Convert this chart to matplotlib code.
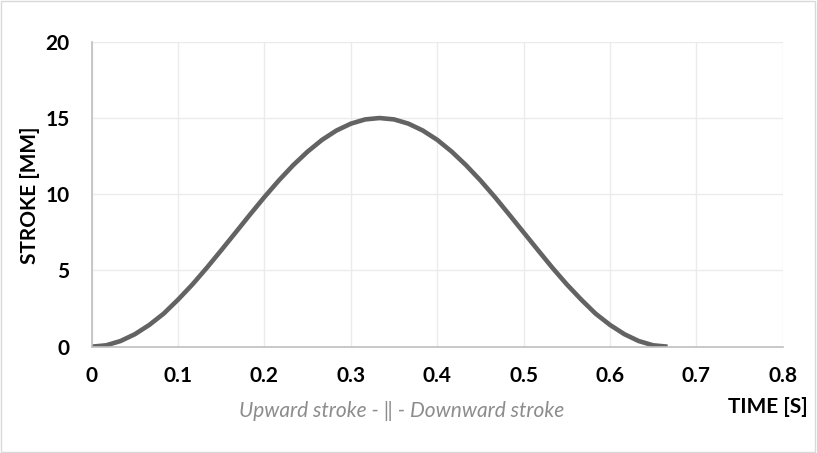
import matplotlib
matplotlib.use('Agg')
import matplotlib.pyplot as plt
from matplotlib.patches import Rectangle

plt.rcParams['font.family'] = ['Lato', 'DejaVu Sans']

# stroke profile (time in s, stroke in mm)
time_s = [0, 0.0167, 0.0333, 0.05, 0.0667, 0.0833, 0.1, 0.1167, 0.1333, 0.15,
          0.1667, 0.1833, 0.2, 0.2167, 0.2333, 0.25, 0.2667, 0.2833, 0.3,
          0.3167, 0.3333, 0.35, 0.3667, 0.3833, 0.4, 0.4167, 0.4333, 0.45,
          0.4667, 0.4833, 0.5, 0.5167, 0.5333, 0.55, 0.5667, 0.5833, 0.6,
          0.6167, 0.6333, 0.65, 0.6667]
stroke_mm = [0, 0.09, 0.37, 0.82, 1.43, 2.17, 3.09, 4.09, 5.18, 6.33, 7.5,
             8.67, 9.82, 10.91, 11.91, 12.8, 13.57, 14.18, 14.63, 14.91, 15.0,
             14.91, 14.63, 14.18, 13.57, 12.8, 11.91, 10.91, 9.82, 8.67, 7.5,
             6.33, 5.18, 4.09, 3.09, 2.17, 1.43, 0.82, 0.37, 0.09, 0]

x_ticks = [0, 0.1, 0.2, 0.3, 0.4, 0.5, 0.6, 0.7, 0.8]
x_labels = ['0', '0.1', '0.2', '0.3', '0.4', '0.5', '0.6', '0.7', '0.8']
y_ticks = [0, 5, 10, 15, 20]

fig = plt.figure(figsize=(8.17, 4.53), dpi=100)
ax = fig.add_axes([0.1123, 0.2347, 0.8457, 0.673])

ax.plot(time_s, stroke_mm, color='#636363', lw=3.3, solid_capstyle='butt')

ax.set_xlim(0, 0.8)
ax.set_ylim(0, 20)
ax.set_xticks(x_ticks)
ax.set_xticklabels(x_labels)
ax.set_yticks(y_ticks)
ax.grid(True, color='#ebebeb', lw=1.0)
ax.set_axisbelow(True)
ax.tick_params(length=0, labelsize=15)
ax.tick_params(axis='x', pad=14)
ax.tick_params(axis='y', pad=16)
for lab in ax.get_xticklabels() + ax.get_yticklabels():
    lab.set_fontweight('bold')

for s in ['top', 'right']:
    ax.spines[s].set_visible(False)
for s in ['left', 'bottom']:
    ax.spines[s].set_color('#bfbfbf')
    ax.spines[s].set_linewidth(1.2)

fig.text(30 / 817, 1 - 195 / 453, 'STROKE [MM]', fontsize=15, fontweight='bold',
         rotation=90, ha='center', va='center')
fig.text(0.94, 1 - 407 / 453, 'TIME [S]', fontsize=15, fontweight='bold',
         ha='center', va='center')
fig.text(0.492, 1 - 411 / 453, 'Upward stroke - \u2016 - Downward stroke',
         fontsize=15, style='italic', color='#8c8c8c',
         ha='center', va='center')

fig.patches.append(Rectangle((0.001, 0.002), 0.997, 0.995, transform=fig.transFigure,
                             fill=False, edgecolor='#d9d9d9', lw=1.0))

fig.savefig('out.png', dpi=100)
